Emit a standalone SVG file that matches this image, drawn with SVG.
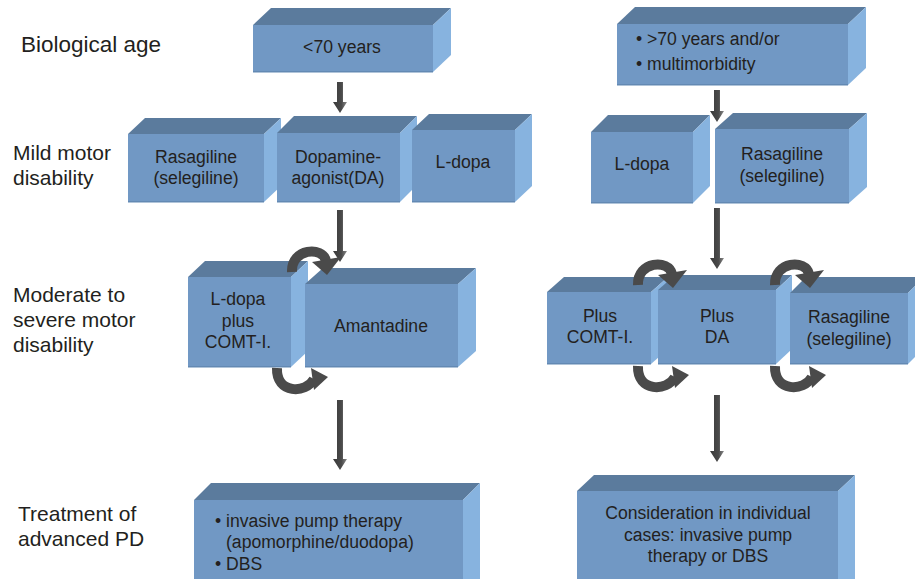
<svg xmlns="http://www.w3.org/2000/svg" xmlns:xlink="http://www.w3.org/1999/xlink" width="915" height="579" viewBox="0 0 915 579">
<style>
.front{fill:#7198c4}
.top{fill:#5b7b9d}
.side{fill:#87b3df}
.edge{fill:#6389b3}
.t{font-family:"Liberation Sans",Arial,sans-serif;font-size:17.6px;fill:#231f20}
.m{text-anchor:middle}
.lbl{font-family:"Liberation Sans",Arial,sans-serif;font-size:21px;fill:#231f20}
.arc{fill:none;stroke:#4a4a4a;stroke-width:10}
.head{fill:#4a4a4a}
.shaft{fill:url(#ag)}
</style>
<defs>
<linearGradient id="ag" x1="0" y1="0" x2="1" y2="0">
<stop offset="0" stop-color="#3a3a3a"/>
<stop offset="0.6" stop-color="#4a4a4a"/>
<stop offset="1" stop-color="#8a8a8a"/>
</linearGradient>
<g id="over">
<path class="arc" d="M5,2 C4,-22 36,-24 39,-9"/>
<polygon class="head" points="25,-8 54,-13 40,5"/>
</g>
<g id="under">
<path class="arc" d="M5,-2 C4,24 34,24 42,9"/>
<polygon class="head" points="39,-2 42,20 56,7"/>
</g>
</defs>
<rect width="915" height="579" fill="#ffffff"/>

<g id="row-labels">
<text class="lbl" x="21" y="52" style="font-size:22.5px">Biological age</text>
<text class="lbl" x="13" y="160">Mild motor</text>
<text class="lbl" x="13" y="185">disability</text>
<text class="lbl" x="13" y="302">Moderate to</text>
<text class="lbl" x="13" y="327">severe motor</text>
<text class="lbl" x="13" y="352">disability</text>
<text class="lbl" x="18" y="521">Treatment of</text>
<text class="lbl" x="18" y="546">advanced PD</text>
</g>

<g id="age-under70">
<polygon class="top" points="253,25 271,8 451,8 433,25"/>
<polygon class="side" points="433,25 451,8 451,55 433,72"/>
<rect class="front" x="253" y="25" width="180" height="47"/>
<rect class="edge" x="253" y="71" width="180" height="1.5"/>
<text class="t m" x="342" y="53">&lt;70 years</text>
</g>

<g id="age-over70">
<polygon class="top" points="617,24 635,7 866,7 848,24"/>
<polygon class="side" points="848,24 866,7 866,68 848,85"/>
<rect class="front" x="617" y="24" width="231" height="61"/>
<rect class="edge" x="617" y="84" width="231" height="1.5"/>
<text class="t" x="636" y="45"><tspan>•</tspan><tspan x="647">&gt;70 years and/or</tspan></text>
<text class="t" x="636" y="70"><tspan>•</tspan><tspan x="647">multimorbidity</tspan></text>
</g>

<g id="mild-rasagiline">
<polygon class="top" points="128,134 145,118 281,118 264,134"/>
<polygon class="side" points="264,134 281,118 281,186 264,202"/>
<rect class="front" x="128" y="134" width="136" height="68"/>
<rect class="edge" x="128" y="201" width="136" height="1.5"/>
<text class="t m" x="196" y="163">Rasagiline</text>
<text class="t m" x="196" y="184">(selegiline)</text>
</g>

<g id="mild-dopamine-agonist">
<polygon class="top" points="277,133 294,116 417,116 400,133"/>
<polygon class="side" points="400,133 417,116 417,185 400,202"/>
<rect class="front" x="277" y="133" width="123" height="69"/>
<rect class="edge" x="277" y="201" width="123" height="1.5"/>
<text class="t m" x="338" y="163">Dopamine-</text>
<text class="t m" x="338" y="184">agonist(DA)</text>
</g>

<g id="mild-ldopa">
<polygon class="top" points="412,130 429,114 532,114 515,130"/>
<polygon class="side" points="515,130 532,114 532,186 515,202"/>
<rect class="front" x="412" y="130" width="103" height="72"/>
<rect class="edge" x="412" y="201" width="103" height="1.5"/>
<text class="t m" x="463" y="168">L-dopa</text>
</g>

<g id="mild-ldopa-right">
<polygon class="top" points="591,132 608,115 710,115 693,132"/>
<polygon class="side" points="693,132 710,115 710,186 693,203"/>
<rect class="front" x="591" y="132" width="102" height="71"/>
<rect class="edge" x="591" y="202" width="102" height="1.5"/>
<text class="t m" x="642" y="170">L-dopa</text>
</g>

<g id="mild-rasagiline-right">
<polygon class="top" points="715,129 733,113 867,113 849,129"/>
<polygon class="side" points="849,129 867,113 867,187 849,203"/>
<rect class="front" x="715" y="129" width="134" height="74"/>
<rect class="edge" x="715" y="202" width="134" height="1.5"/>
<text class="t m" x="782" y="160">Rasagiline</text>
<text class="t m" x="782" y="182">(selegiline)</text>
</g>

<g id="mod-ldopa-comt">
<polygon class="top" points="188,277 205,261 308,261 291,277"/>
<polygon class="side" points="291,277 308,261 308,351 291,367"/>
<rect class="front" x="188" y="277" width="103" height="90"/>
<rect class="edge" x="188" y="366" width="103" height="1.5"/>
<text class="t m" x="238" y="305">L-dopa</text>
<text class="t m" x="238" y="327">plus</text>
<text class="t m" x="238" y="348">COMT-I.</text>
</g>

<g id="mod-amantadine">
<polygon class="top" points="305,284 323,268 476,268 458,284"/>
<polygon class="side" points="458,284 476,268 476,351 458,367"/>
<rect class="front" x="305" y="284" width="153" height="83"/>
<rect class="edge" x="305" y="366" width="153" height="1.5"/>
<text class="t m" x="381" y="332">Amantadine</text>
</g>

<g id="mod-plus-comt">
<polygon class="top" points="547,292 564,277 668,277 651,292"/>
<polygon class="side" points="651,292 668,277 668,349 651,364"/>
<rect class="front" x="547" y="292" width="104" height="72"/>
<rect class="edge" x="547" y="363" width="104" height="1.5"/>
<text class="t m" x="600" y="322">Plus</text>
<text class="t m" x="600" y="343">COMT-I.</text>
</g>

<g id="mod-plus-da">
<polygon class="top" points="658,290 675,275 792,275 776,290"/>
<polygon class="side" points="776,290 792,275 792,349 776,364"/>
<rect class="front" x="658" y="290" width="118" height="74"/>
<rect class="edge" x="658" y="363" width="118" height="1.5"/>
<text class="t m" x="717" y="322">Plus</text>
<text class="t m" x="717" y="343">DA</text>
</g>

<g id="mod-rasagiline">
<polygon class="top" points="790,293 806,277 924,277 908,293"/>
<polygon class="side" points="908,293 924,277 924,348 908,364"/>
<rect class="front" x="790" y="293" width="118" height="71"/>
<rect class="edge" x="790" y="363" width="118" height="1.5"/>
<text class="t m" x="849" y="323">Rasagiline</text>
<text class="t m" x="849" y="345">(selegiline)</text>
</g>

<g id="adv-left">
<polygon class="top" points="194,500 211,483 480,483 463,500"/>
<polygon class="side" points="463,500 480,483 480,590 463,590"/>
<rect class="front" x="194" y="500" width="269" height="90"/>
<text class="t" x="215" y="527"><tspan>•</tspan><tspan x="226">invasive pump therapy</tspan></text>
<text class="t" x="226" y="548">(apomorphine/duodopa)</text>
<text class="t" x="215" y="570"><tspan>•</tspan><tspan x="226">DBS</tspan></text>
</g>

<g id="adv-right">
<polygon class="top" points="577,491 594,475 855,475 838,491"/>
<polygon class="side" points="838,491 855,475 855,590 838,590"/>
<rect class="front" x="577" y="491" width="261" height="99"/>
<text class="t m" x="708" y="519">Consideration in individual</text>
<text class="t m" x="708" y="541">cases: invasive pump</text>
<text class="t m" x="708" y="562">therapy or DBS</text>
</g>

<g id="connectors">
<path class="shaft" d="M337,82 H343 V102 H347 L340,113 L333,102 H337 Z"/>
<path class="shaft" d="M337,210 H343 V251 H347 L340,262 L333,251 H337 Z"/>
<path class="shaft" d="M337,400 H343 V459 H347 L340,470 L333,459 H337 Z"/>
<path class="shaft" d="M714,90 H720 V111 H724 L717,122 L710,111 H714 Z"/>
<path class="shaft" d="M714,208 H720 V258 H724 L717,269 L710,258 H714 Z"/>
<path class="shaft" d="M714,395 H720 V451 H724 L717,462 L710,451 H714 Z"/>
<use xlink:href="#over" x="287" y="270"/>
<use xlink:href="#over" x="633" y="283"/>
<use xlink:href="#over" x="770" y="283"/>
<use xlink:href="#under" x="272" y="370"/>
<use xlink:href="#under" x="633" y="368"/>
<use xlink:href="#under" x="770" y="368"/>
</g>
</svg>
